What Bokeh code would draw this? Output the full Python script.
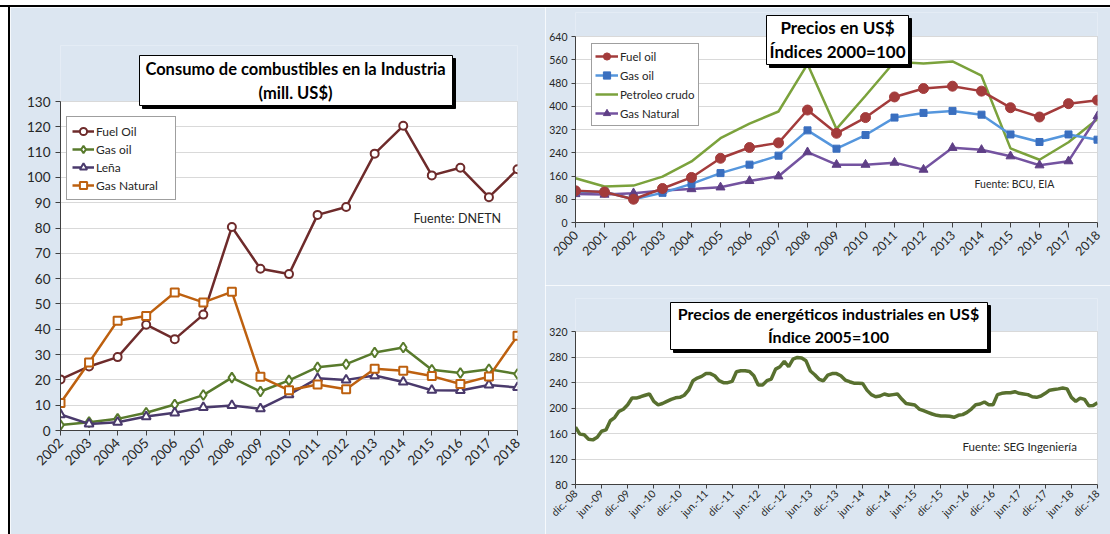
from math import pi
from bokeh.plotting import figure
from bokeh.models import Range1d, FixedTicker, Label, Legend, LegendItem, Spacer
from bokeh.layouts import row, column
from bokeh.embed import file_html
from bokeh.resources import INLINE

# ---------------- data ----------------
years_consumo = [2002, 2003, 2004, 2005, 2006, 2007, 2008, 2009, 2010, 2011, 2012, 2013, 2014, 2015, 2016, 2017, 2018]
fuel_oil = [20.2, 25.3, 29.0, 41.8, 36.1, 45.8, 80.4, 63.9, 61.8, 85.2, 88.3, 109.4, 120.4, 100.8, 103.8, 92.2, 103.2]
gas_oil = [2.2, 3.3, 4.6, 7.0, 10.3, 14.0, 20.9, 15.4, 19.8, 25.0, 26.2, 30.8, 32.8, 24.0, 22.7, 24.2, 22.3]
lena = [6.3, 2.6, 3.3, 5.5, 7.0, 9.1, 9.9, 8.6, 14.2, 20.6, 20.0, 21.7, 19.2, 15.9, 15.8, 18.0, 17.0]
gas_natural = [10.9, 26.9, 43.4, 45.2, 54.5, 50.6, 54.8, 21.2, 15.9, 18.2, 16.3, 24.4, 23.6, 21.5, 18.4, 21.3, 37.4]
ticks_consumo = [0, 10, 20, 30, 40, 50, 60, 70, 80, 90, 100, 110, 120, 130]

years_precios = [2000, 2001, 2002, 2003, 2004, 2005, 2006, 2007, 2008, 2009, 2010, 2011, 2012, 2013, 2014, 2015, 2016, 2017, 2018]
precio_fuel_oil = [109, 105, 80, 117, 155, 221, 258, 274, 387, 307, 361, 432, 461, 469, 452, 395, 363, 409, 421]
precio_gas_oil = [106, 106, 80, 102, 133, 170, 199, 230, 317, 254, 301, 361, 377, 384, 371, 303, 277, 303, 285]
precio_crudo = [152, 124, 127, 158, 210, 290, 340, 382, 545, 322, 436, 553, 547, 554, 505, 255, 216, 276, 356]
precio_gas_natural = [98, 96, 101, 110, 115, 121, 143, 159, 242, 199, 199, 206, 182, 257, 250, 228, 197, 211, 366]
ticks_precios = [0, 80, 160, 240, 320, 400, 480, 560, 640]

# monthly index dic-08 .. dic-18
indice_energeticos = [
    170, 159, 158, 151, 150, 154, 163.5, 165.6, 180, 185, 194.8, 198,
    205, 215.6, 215.6, 217.7, 220, 222, 210.4, 205, 207, 210.4, 213.6, 216,
    216.7, 220, 228, 242.8, 247, 249.6, 254, 254, 250.6, 242.8, 239.7, 239.7,
    241.7, 257, 258.4, 258.4, 257.4, 250.6, 236, 236, 242.8, 245.4, 261, 264.7,
    273, 264.7, 276.7, 279.3, 278.3, 274, 258, 252.2, 245, 242.8, 251.6, 254,
    254, 250.6, 243.8, 241.2, 239, 239, 238.6, 228, 221, 217.7, 218.8, 222,
    220, 221, 222, 214, 207, 206, 204.7, 198.4, 195.8, 193.2, 190.6, 188.5,
    187.5, 187.5, 187, 185.4, 188.5, 189.6, 193.2, 198.4, 205.2, 206.3, 209.4, 205.2,
    205.2, 221, 223, 224, 224, 225.6, 223, 222, 221, 217.7, 216.7, 218.8,
    223, 228, 229, 230, 231.3, 230, 216.7, 210.4, 215.6, 213.6, 203.6, 204,
    208.3,
]
month_tick_labels = ["dic.-08", "jun.-09", "dic.-09", "jun.-10", "dic.-10", "jun.-11", "dic.-11",
                     "jun.-12", "dic.-12", "jun.-13", "dic.-13", "jun.-14", "dic.-14", "jun.-15",
                     "dic.-15", "jun.-16", "dic.-16", "jun.-17", "dic.-17", "jun.-18", "dic.-18"]
ticks_indice = [80, 120, 160, 200, 240, 280, 320]

# ---------------- style ----------------
BG = "#dce6f1"
FONT = "Lato"
AXC = "#404040"
TXT = "#262626"
PAGE_W, PAGE_H = 1110, 534
TOP_Y = 7      # first blue row on the page
LEFT_X = 10    # first blue column on the page
SPLIT_X = 545  # border between left and right panels
SPLIT_Y = 285  # border between the two right panels


class Geo:
    """maps page pixels to data coordinates for one figure frame"""
    def __init__(self, fx0, fx1, fbot, ftop, xmin, xmax, ymin, ymax):
        self.fx0, self.fx1, self.fbot, self.ftop = fx0, fx1, fbot, ftop
        self.xmin, self.xmax, self.ymin, self.ymax = xmin, xmax, ymin, ymax

    def x(self, px):
        return self.xmin + (px - self.fx0) / (self.fx1 - self.fx0) * (self.xmax - self.xmin)

    def y(self, py):
        return self.ymin + (self.fbot - py) / (self.fbot - self.ftop) * (self.ymax - self.ymin)


def base_fig(x0, y0, x1, y1, g, frame_top, xr, yticks, plot_box):
    w, h = x1 - x0, y1 - y0
    ml = g.fx0 - x0
    mr = x1 - g.fx1
    mt = frame_top - y0
    mb = y1 - g.fbot
    p = figure(width=w, height=h, x_range=xr, y_range=Range1d(g.ymin, g.y(frame_top)),
               min_border_left=ml, min_border_right=mr, min_border_top=mt, min_border_bottom=mb,
               toolbar_location=None, output_backend="svg")
    p.background_fill_color = BG
    p.border_fill_color = BG
    p.outline_line_color = None
    l, r, b, t = plot_box
    p.quad(left=[l], right=[r], bottom=[b], top=[t], fill_color="white",
           line_color="#bfbfbf", line_width=1, level="image")
    p.xgrid.grid_line_color = None
    p.ygrid.grid_line_color = "#d9d9d9"
    p.ygrid.grid_line_width = 1
    p.yaxis[0].ticker = FixedTicker(ticks=yticks)
    p.yaxis[0].bounds = (yticks[0], yticks[-1])
    for ax in (p.xaxis[0], p.yaxis[0]):
        ax.axis_line_color = AXC
        ax.axis_line_width = 1
        ax.major_tick_line_color = AXC
        ax.minor_tick_line_color = None
        ax.major_tick_out = 5
        ax.major_tick_in = 0
        ax.major_label_text_font = FONT
        ax.major_label_text_color = TXT
        ax.major_label_standoff = 5
    return p


def title_box(p, g, box, line1, line2, cx, y1, y2, size):
    x0, x1, ytop, ybot = box
    p.quad(left=[g.x(x0 + 3)], right=[g.x(x1 + 3)], top=[g.y(ytop + 3)], bottom=[g.y(ybot + 3)],
           fill_color="black", line_color="black", level="annotation")
    p.quad(left=[g.x(x0)], right=[g.x(x1)], top=[g.y(ytop)], bottom=[g.y(ybot)],
           fill_color="white", line_color="black", line_width=1, level="annotation")
    for txt, py in ((line1, y1), (line2, y2)):
        p.add_layout(Label(x=g.x(cx), y=g.y(py), text=txt, text_align="center",
                           text_baseline="middle", text_font=FONT, text_font_style="bold",
                           text_font_size=size, text_color="black"))


# ---------------- left chart ----------------
g1 = Geo(60, 517, 430, 101, 2002, 2018, 0, 130)
p1 = base_fig(LEFT_X, TOP_Y, SPLIT_X, PAGE_H, g1, 45, Range1d(2002, 2018), ticks_consumo,
              (years_consumo[0], years_consumo[-1], ticks_consumo[0], ticks_consumo[-1]))
p1.xaxis[0].ticker = FixedTicker(ticks=years_consumo)
p1.xaxis[0].major_label_orientation = pi / 4
p1.xaxis[0].major_label_text_font_size = "13.5px"
p1.yaxis[0].major_label_text_font_size = "13.5px"

series1 = [
    ("Fuel Oil", fuel_oil, "#6e2b2b", "circle", 8),
    ("Gas oil", gas_oil, "#587a2c", "diamond", 10),
    ("Leña", lena, "#4a3a6c", "triangle", 9),
    ("Gas Natural", gas_natural, "#bd600f", "square", 8),
]
items1 = []
for name, ys, col, mk, sz in series1:
    rl = p1.line(years_consumo, ys, line_color=col, line_width=2.5)
    rs = p1.scatter(years_consumo, ys, marker=mk, size=sz, fill_color="white",
                    line_color=col, line_width=2)
    items1.append(LegendItem(label=name, renderers=[rl, rs]))
leg1 = Legend(items=items1, location=(6, 230), margin=0, padding=5, spacing=0,
              glyph_width=22, glyph_height=18, label_height=18, label_width=74,
              label_standoff=2, label_text_font=FONT, label_text_font_size="12px",
              label_text_color=TXT, border_line_color="#404040", border_line_width=1,
              background_fill_color="white", background_fill_alpha=1)
p1.add_layout(leg1)

title_box(p1, g1, (139, 452, 55, 105), "Consumo de combustibles en la Industria", "(mill. US$)",
          295, 68, 92, "16.5px")
p1.add_layout(Label(x=g1.x(413), y=g1.y(218), text="Fuente: DNETN", text_baseline="middle",
                    text_font=FONT, text_font_size="12.5px", text_color=TXT))

# ---------------- top right chart ----------------
g2 = Geo(575, 1097, 222, 36, 2000, 2018, 0, 640)
p2 = base_fig(SPLIT_X, TOP_Y, PAGE_W, SPLIT_Y, g2, 12, Range1d(2000, 2018), ticks_precios,
              (years_precios[0], years_precios[-1], ticks_precios[0], ticks_precios[-1]))
p2.xaxis[0].ticker = FixedTicker(ticks=years_precios)
p2.xaxis[0].major_label_orientation = pi / 4
p2.xaxis[0].major_label_text_font_size = "12.5px"
p2.yaxis[0].major_label_text_font_size = "10.5px"
p2.yaxis[0].major_label_standoff = 4
p2.yaxis[0].major_tick_out = 4

rl = p2.line(years_precios, precio_crudo, line_color="#7ba23c", line_width=2.5)
crudo_item = LegendItem(label="Petroleo crudo", renderers=[rl])
rl = p2.line(years_precios, precio_gas_natural, line_color="#7453a0", line_width=2.5)
rs = p2.scatter(years_precios, precio_gas_natural, marker="triangle", size=9,
                fill_color="#5f3f86", line_color="#5f3f86")
gn_item = LegendItem(label="Gas Natural", renderers=[rl, rs])
rl = p2.line(years_precios, precio_gas_oil, line_color="#5596dd", line_width=2.5)
rs = p2.scatter(years_precios, precio_gas_oil, marker="square", size=7,
                fill_color="#3a6fbf", line_color="#3a6fbf")
go_item = LegendItem(label="Gas oil", renderers=[rl, rs])
rl = p2.line(years_precios, precio_fuel_oil, line_color="#a33b3b", line_width=2.5)
rs = p2.scatter(years_precios, precio_fuel_oil, marker="circle", size=10,
                fill_color="#a33b3b", line_color="#a33b3b")
fo_item = LegendItem(label="Fuel oil", renderers=[rl, rs])
leg2 = Legend(items=[fo_item, go_item, crudo_item, gn_item], location=(16, 96), margin=0,
              padding=3, spacing=1, glyph_width=23, glyph_height=18, label_height=18,
              label_width=70, label_standoff=2, label_text_font=FONT,
              label_text_font_size="11.5px", label_text_color=TXT,
              border_line_color="#404040", border_line_width=1,
              background_fill_color="white", background_fill_alpha=1)
p2.add_layout(leg2)

title_box(p2, g2, (766, 908, 15, 64), "Precios en US$", "Índices 2000=100",
          837, 27, 51, "17px")
p2.add_layout(Label(x=g2.x(974), y=g2.y(183), text="Fuente: BCU, EIA", text_baseline="middle",
                    text_font=FONT, text_font_size="10.5px", text_color=TXT))

# ---------------- bottom right chart ----------------
n = len(indice_energeticos)
months = list(range(n))
g3 = Geo(575, 1097, 484, 331, 0, n - 1, 80, 320)
p3 = base_fig(SPLIT_X, SPLIT_Y, PAGE_W, PAGE_H, g3, 298, Range1d(0, n - 1), ticks_indice,
              (months[0], months[-1], ticks_indice[0], ticks_indice[-1]))
tick_pos = months[::6]
p3.xaxis[0].ticker = FixedTicker(ticks=tick_pos)
p3.xaxis[0].major_label_overrides = {t: lab for t, lab in zip(tick_pos, month_tick_labels)}
p3.xaxis[0].major_label_orientation = pi / 4
p3.xaxis[0].major_label_text_font_size = "10.5px"
p3.xaxis[0].major_label_standoff = 3
p3.xaxis[0].major_tick_out = 4
p3.yaxis[0].major_label_text_font_size = "10.5px"
p3.yaxis[0].major_label_standoff = 4
p3.yaxis[0].major_tick_out = 4
p3.line(months, indice_energeticos, line_color="#58702f", line_width=3.5)

title_box(p3, g3, (670, 987, 302, 349), "Precios de energéticos industriales en US$",
          "Índice 2005=100", 828, 313, 336, "16px")
p3.add_layout(Label(x=g3.x(962), y=g3.y(446), text="Fuente: SEG Ingeniería", text_baseline="middle",
                    text_font=FONT, text_font_size="11.5px", text_color=TXT))

# ---------------- page layout ----------------
black = {"background-color": "black"}
main = row(p1, column(p2, p3, spacing=0), spacing=0)
layout = column(
    Spacer(width=PAGE_W, height=TOP_Y - 2),
    Spacer(width=PAGE_W, height=2, styles=black),
    row(Spacer(width=LEFT_X - 2, height=PAGE_H - TOP_Y),
        Spacer(width=2, height=PAGE_H - TOP_Y, styles=black), main, spacing=0),
    spacing=0,
)

open("out.html", "w").write(file_html(layout, INLINE))
